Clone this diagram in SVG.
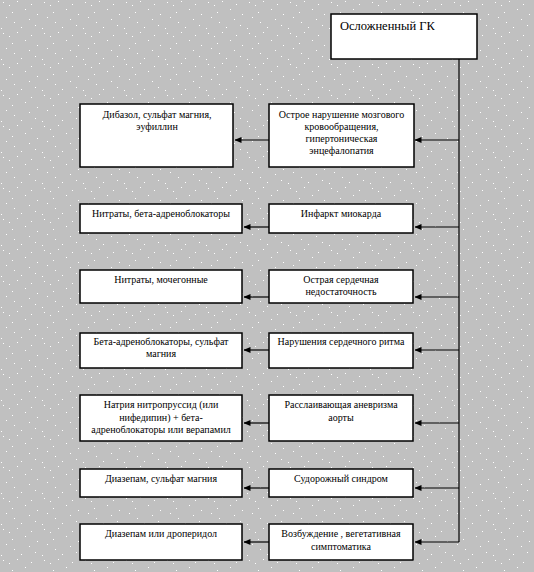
<svg xmlns="http://www.w3.org/2000/svg" width="534" height="572" viewBox="0 0 534 572">
<style>
.box{fill:#fff;stroke:#000;stroke-width:1.5}
.t{font-size:10px;fill:#000;text-anchor:middle}
.title{font-size:12.5px;fill:#000}
.c{stroke:#000;stroke-width:1.2;fill:none}
</style>
<defs>
<pattern id="noise" x="0" y="0" width="41" height="31" patternUnits="userSpaceOnUse">
<rect width="41" height="31" fill="#c0c0c0"/>
<rect x="3" y="2" width="1" height="1" fill="#fff"/>
<rect x="9" y="5" width="1" height="1" fill="#fff"/>
<rect x="17" y="1" width="1" height="1" fill="#fff"/>
<rect x="25" y="9" width="1" height="1" fill="#fff"/>
<rect x="31" y="4" width="1" height="1" fill="#fff"/>
<rect x="37" y="14" width="1" height="1" fill="#fff"/>
<rect x="6" y="17" width="1" height="1" fill="#fff"/>
<rect x="14" y="22" width="1" height="1" fill="#fff"/>
<rect x="21" y="27" width="1" height="1" fill="#fff"/>
<rect x="29" y="19" width="1" height="1" fill="#fff"/>
<rect x="35" y="25" width="1" height="1" fill="#fff"/>
<rect x="1" y="28" width="1" height="1" fill="#fff"/>
<rect x="12" y="12" width="1" height="1" fill="#fff"/>
</pattern>
<marker id="ah" markerWidth="7" markerHeight="6" refX="6.5" refY="3" orient="auto" markerUnits="userSpaceOnUse">
<path d="M0,0 L7,3 L0,6 Z" fill="#000"/>
</marker>
</defs>
<rect width="534" height="572" fill="url(#noise)"/>

<g id="connectors">
<line class="c" x1="459" y1="59" x2="459" y2="542"/>
<line class="c" x1="459" y1="140" x2="415" y2="140" marker-end="url(#ah)"/>
<line class="c" x1="269" y1="140" x2="235" y2="140" marker-end="url(#ah)"/>
<line class="c" x1="459" y1="227" x2="415" y2="227" marker-end="url(#ah)"/>
<line class="c" x1="269" y1="227" x2="244" y2="227" marker-end="url(#ah)"/>
<line class="c" x1="459" y1="297" x2="415" y2="297" marker-end="url(#ah)"/>
<line class="c" x1="269" y1="297" x2="244" y2="297" marker-end="url(#ah)"/>
<line class="c" x1="459" y1="350" x2="415" y2="350" marker-end="url(#ah)"/>
<line class="c" x1="269" y1="350" x2="244" y2="350" marker-end="url(#ah)"/>
<line class="c" x1="459" y1="423" x2="415" y2="423" marker-end="url(#ah)"/>
<line class="c" x1="269" y1="423" x2="244" y2="423" marker-end="url(#ah)"/>
<line class="c" x1="459" y1="488" x2="415" y2="488" marker-end="url(#ah)"/>
<line class="c" x1="269" y1="488" x2="244" y2="488" marker-end="url(#ah)"/>
<line class="c" x1="459" y1="542" x2="415" y2="542" marker-end="url(#ah)"/>
<line class="c" x1="269" y1="542" x2="244" y2="542" marker-end="url(#ah)"/>
</g>

<g font-family="Liberation Serif, Times New Roman, serif">
<g id="root">
<rect class="box" x="331" y="14" width="146" height="45"/>
<text class="title" x="340" y="30">Осложненный ГК</text>
</g>

<g id="r1">
<rect class="box" x="269" y="104" width="145" height="63"/>
<text class="t" x="341.5" y="118">Острое нарушение мозгового</text>
<text class="t" x="341.5" y="130">кровообращения,</text>
<text class="t" x="341.5" y="142">гипертоническая</text>
<text class="t" x="341.5" y="154">энцефалопатия</text>
</g>
<g id="l1">
<rect class="box" x="80" y="104" width="153" height="63"/>
<text class="t" x="157" y="118">Дибазол, сульфат магния,</text>
<text class="t" x="157" y="130">эуфиллин</text>
</g>

<g id="r2">
<rect class="box" x="269" y="204" width="144" height="29"/>
<text class="t" x="341" y="217">Инфаркт миокарда</text>
</g>
<g id="l2">
<rect class="box" x="80" y="204" width="162" height="29"/>
<text class="t" x="161" y="217">Нитраты, бета-адреноблокаторы</text>
</g>

<g id="r3">
<rect class="box" x="269" y="270" width="144" height="33"/>
<text class="t" x="341" y="283">Острая сердечная</text>
<text class="t" x="341" y="295">недостаточность</text>
</g>
<g id="l3">
<rect class="box" x="80" y="270" width="162" height="33"/>
<text class="t" x="161" y="283">Нитраты, мочегонные</text>
</g>

<g id="r4">
<rect class="box" x="269" y="333" width="144" height="35"/>
<text class="t" x="341" y="345">Нарушения сердечного ритма</text>
</g>
<g id="l4">
<rect class="box" x="80" y="333" width="162" height="35"/>
<text class="t" x="161" y="345">Бета-адреноблокаторы, сульфат</text>
<text class="t" x="161" y="357">магния</text>
</g>

<g id="r5">
<rect class="box" x="269" y="395" width="144" height="46"/>
<text class="t" x="341" y="408">Расслаивающая аневризма</text>
<text class="t" x="341" y="421">аорты</text>
</g>
<g id="l5">
<rect class="box" x="80" y="395" width="162" height="46"/>
<text class="t" x="161" y="408">Натрия нитропруссид (или</text>
<text class="t" x="161" y="421">нифедипин) + бета-</text>
<text class="t" x="161" y="433">адреноблокаторы или верапамил</text>
</g>

<g id="r6">
<rect class="box" x="269" y="469" width="144" height="28"/>
<text class="t" x="341" y="482">Судорожный синдром</text>
</g>
<g id="l6">
<rect class="box" x="80" y="469" width="162" height="28"/>
<text class="t" x="161" y="482">Диазепам, сульфат магния</text>
</g>

<g id="r7">
<rect class="box" x="269" y="524" width="144" height="36"/>
<text class="t" x="341" y="537">Возбуждение , вегетативная</text>
<text class="t" x="341" y="550">симптоматика</text>
</g>
<g id="l7">
<rect class="box" x="80" y="524" width="162" height="36"/>
<text class="t" x="161" y="537">Диазепам или дроперидол</text>
</g>
</g>
</svg>
